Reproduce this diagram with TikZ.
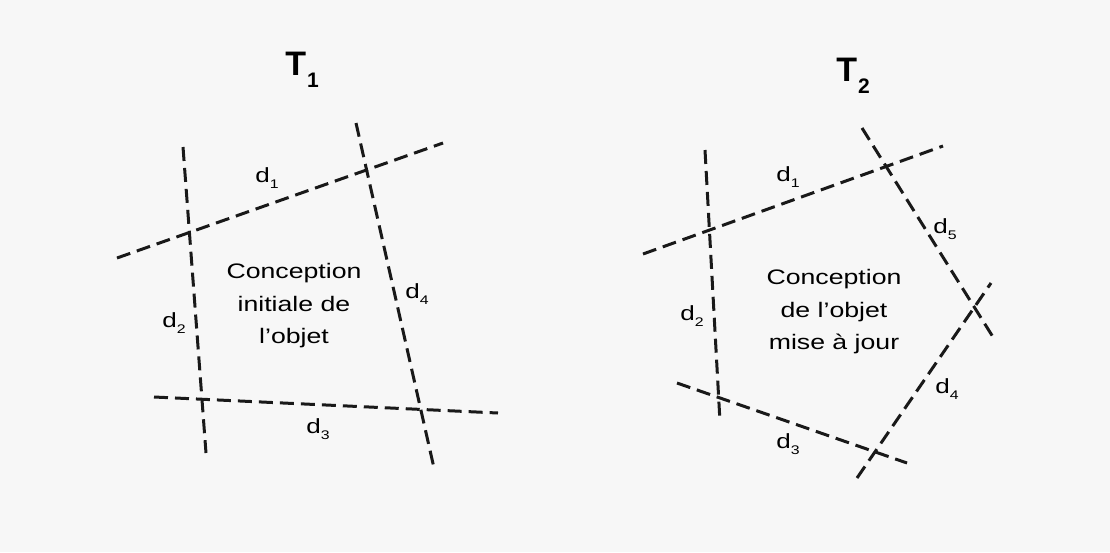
\documentclass[tikz,border=0pt]{standalone}
\usepackage{fontspec}
\setmainfont{Liberation Sans}
\newfontfamily\widefont[FakeStretch=1.27]{Liberation Sans}
\newcommand{\dsub}[1]{d\raisebox{-0.5ex}{\fontsize{12.5}{13}\selectfont #1}}
\newcommand{\tsub}[1]{\textbf{T}\hspace{1pt}\raisebox{-0.68ex}{\fontsize{21}{22}\selectfont\bfseries #1}}
\begin{document}
\begin{tikzpicture}[x=1pt,y=-1pt,
  cut/.style={line width=3pt,dash pattern=on 14pt off 7pt,black!90},
  lab/.style={font=\widefont\fontsize{20.5}{21}\selectfont,inner sep=0pt,anchor=center},
  body/.style={font=\widefont\fontsize{21}{32.5}\selectfont,align=center,inner sep=0pt},
  title/.style={font=\fontsize{34}{36}\selectfont,inner sep=0pt}]
\fill[black!3] (0,0) rectangle (1110,552);
\useasboundingbox (0,0) rectangle (1110,552);
% ---- left figure T1
\coordinate (a1s) at (117,258); \coordinate (a1e) at (443,143);
\coordinate (a2s) at (183,147); \coordinate (a2e) at (206,453);
\coordinate (a3s) at (154,397); \coordinate (a3e) at (498,413);
\coordinate (a4s) at (356,123); \coordinate (a4e) at (434,468);
\draw[cut] (a1s) -- (a1e);
\draw[cut] (a2s) -- (a2e);
\draw[cut] (a3s) -- (a3e);
\draw[cut] (a4s) -- (a4e);
\node[title] (T1) at (302,70) {\tsub{1}};
\node[lab] (la1) at (267,178) {\dsub{1}};
\node[lab] (la2) at (174,323) {\dsub{2}};
\node[lab] (la3) at (318,429) {\dsub{3}};
\node[lab] (la4) at (417,294) {\dsub{4}};
\node[body] (txt1) at (294,306) {Conception\\initiale de\\l’objet};
% ---- right figure T2
\coordinate (b1s) at (643,254); \coordinate (b1e) at (943,146);
\coordinate (b2s) at (705,150); \coordinate (b2e) at (720,422);
\coordinate (b3s) at (677,383); \coordinate (b3e) at (907,463);
\coordinate (b4s) at (857,478); \coordinate (b4e) at (991,283);
\coordinate (b5s) at (862,128); \coordinate (b5e) at (993,337);
\draw[cut] (b1s) -- (b1e);
\draw[cut] (b2s) -- (b2e);
\draw[cut] (b3s) -- (b3e);
\draw[cut] (b4s) -- (b4e);
\draw[cut] (b5s) -- (b5e);
\node[title] (T2) at (853,76) {\tsub{2}};
\node[lab] (lb1) at (788,177) {\dsub{1}};
\node[lab] (lb2) at (692,316) {\dsub{2}};
\node[lab] (lb3) at (788,444) {\dsub{3}};
\node[lab] (lb4) at (947,389) {\dsub{4}};
\node[lab] (lb5) at (945,229) {\dsub{5}};
\node[body] (txt2) at (834,312) {Conception\\de l’objet\\mise à jour};
\end{tikzpicture}
\end{document}
